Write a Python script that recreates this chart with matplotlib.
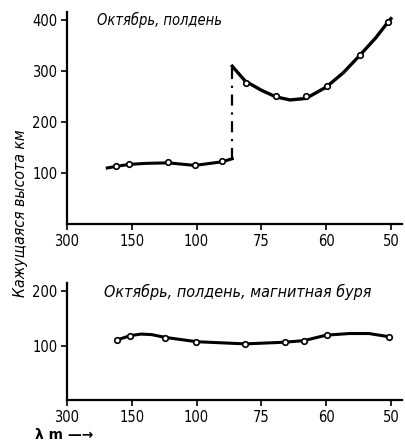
import matplotlib
matplotlib.use("Agg")
import matplotlib.pyplot as plt

# ─── data (wavelength in m, apparent height in km) ───────────────────────────

# top panel: October, noon
lam_low   = [185, 171, 153, 135, 117, 101, 88.5, 84.5]
h_low     = [110, 113, 117, 119, 120, 115, 122, 128]
lam_high  = [84.5, 80, 75, 71, 67.5, 64, 60, 57, 54.3, 52, 50.4, 50]
h_high    = [309, 280, 262, 249, 243, 246, 268, 296, 331, 365, 395, 402]
lam_jump  = [84.5, 84.5]
h_jump    = [128, 309]
lam_pts_t = [171, 153, 117, 101, 88.5, 79.6, 71, 64, 59.9, 54.3, 50.4]
h_pts_t   = [113, 117, 121, 115, 123, 277, 250, 250, 271, 331, 395]

# bottom panel: October, noon, magnetic storm
lam_storm = [170, 152, 140, 130, 119.5, 100, 80, 69, 64.4, 60, 56, 53, 50.2]
h_storm   = [110, 118, 121, 120, 115, 107, 103, 106, 109, 119, 122, 122, 116]
lam_pts_b = [170, 152, 119.5, 100.4, 80, 68.8, 64.4, 59.9, 50.2]
h_pts_b   = [110, 118, 114.5, 107, 103, 106, 109, 119, 115]

tick_lam  = [300, 150, 100, 75, 60, 50]

FONT = ["DejaVu Sans"]


def freq(lams):
    # axis is linear in frequency (MHz) = 300 / lambda
    return [300.0 / l for l in lams]


def style_axis(ax, ymax, yticks):
    ax.set_xlim(1.0, 6.17)
    ax.set_ylim(0, ymax)
    ax.spines["top"].set_visible(False)
    ax.spines["right"].set_visible(False)
    for s in ("left", "bottom"):
        ax.spines[s].set_linewidth(1.6)
    ax.set_xticks(freq(tick_lam))
    ax.set_xticklabels([str(t) for t in tick_lam])
    ax.set_yticks(yticks)
    ax.tick_params(direction="out", length=4, width=1.2, labelsize=10.5, pad=3)
    for lab in ax.get_xticklabels() + ax.get_yticklabels():
        lab.set_fontfamily(FONT)
        lab.set_fontstretch("condensed")


fig = plt.figure(figsize=(4.06, 4.44), dpi=100)
ax1 = fig.add_axes([0.165, 0.495, 0.825, 0.478])
ax2 = fig.add_axes([0.165, 0.099, 0.825, 0.264])

pt_kw = dict(ls="none", marker="o", ms=4, mfc="white", mec="black", mew=1.2, zorder=3)
italic = dict(style="italic", family=FONT, stretch="condensed")

ax1.plot(freq(lam_low), h_low, color="black", lw=2.2)
ax1.plot(freq(lam_high), h_high, color="black", lw=2.4)
ax1.plot(freq(lam_jump), h_jump, color="black", lw=1.6, ls=(0, (5, 3, 1, 3)))
ax1.plot(freq(lam_pts_t), h_pts_t, **pt_kw)
style_axis(ax1, 415, [100, 200, 300, 400])
ax1.text(0.09, 0.94, "Октябрь, полдень", transform=ax1.transAxes, fontsize=10.5, **italic)

ax2.plot(freq(lam_storm), h_storm, color="black", lw=2.2)
ax2.plot(freq(lam_pts_b), h_pts_b, **pt_kw)
style_axis(ax2, 215, [100, 200])
ax2.text(0.11, 0.88, "Октябрь, полдень, магнитная буря", transform=ax2.transAxes,
         fontsize=11.5, **italic)

fig.text(0.05, 0.52, "Кажущаяся высота км", rotation=90, ha="center", va="center",
         fontsize=11.3, **italic)
fig.text(0.085, 0.004, "λ m —→", fontsize=10, fontweight="bold", ha="left", va="bottom")

fig.savefig("out.png", dpi=100)
